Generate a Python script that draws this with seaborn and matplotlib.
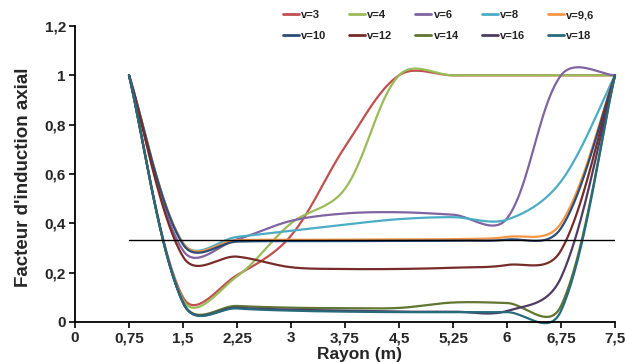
import numpy as np
import pandas as pd
import matplotlib
matplotlib.use("Agg")
import matplotlib.pyplot as plt
import seaborn as sns

# Rayon (m) at which the axial induction factor was computed
rayon = [0.75, 1.5, 2.25, 3.0, 3.75, 4.5, 5.25, 6.0, 6.75, 7.5]

# Axial induction factor for each wind speed v (m/s)
v3 = [1.0, 0.10, 0.19, 0.35, 0.71, 1.0, 1.0, 1.0, 1.0, 1.0]
v4 = [1.0, 0.09, 0.185, 0.40, 0.54, 1.0, 1.0, 1.0, 1.0, 1.0]
v6 = [1.0, 0.29, 0.335, 0.41, 0.44, 0.445, 0.435, 0.42, 1.0, 1.0]
v8 = [1.0, 0.32, 0.345, 0.37, 0.395, 0.417, 0.425, 0.415, 0.57, 1.0]
v9_6 = [1.0, 0.32, 0.332, 0.333, 0.334, 0.335, 0.336, 0.345, 0.40, 1.0]
v10 = [1.0, 0.315, 0.326, 0.328, 0.328, 0.329, 0.33, 0.334, 0.38, 1.0]
v12 = [1.0, 0.265, 0.265, 0.222, 0.215, 0.215, 0.22, 0.231, 0.29, 1.0]
v14 = [1.0, 0.08, 0.065, 0.058, 0.056, 0.057, 0.079, 0.077, 0.065, 1.0]
v16 = [1.0, 0.078, 0.058, 0.05, 0.046, 0.042, 0.042, 0.045, 0.18, 1.0]
v18 = [1.0, 0.078, 0.055, 0.046, 0.042, 0.04, 0.04, 0.04, 0.045, 1.0]

series_labels = ["v=3", "v=4", "v=6", "v=8", "v=9,6",
                 "v=10", "v=12", "v=14", "v=16", "v=18"]
series_values = [v3, v4, v6, v8, v9_6, v10, v12, v14, v16, v18]
series_colors = ["#C0504D", "#9BBB59", "#8064A2", "#4BACC6", "#F79646",
                 "#2C4D75", "#772C2A", "#5F7530", "#4D3B62", "#276A7C"]

# Betz reference level
betz_level = 1 / 3
betz_span = [0.75, 7.5]

x_ticks = [0, 0.75, 1.5, 2.25, 3, 3.75, 4.5, 5.25, 6, 6.75, 7.5]
x_tick_labels = ["0", "0,75", "1,5", "2,25", "3", "3,75", "4,5",
                 "5,25", "6", "6,75", "7,5"]
y_ticks = [0, 0.2, 0.4, 0.6, 0.8, 1.0, 1.2]
y_tick_labels = ["0", "0,2", "0,4", "0,6", "0,8", "1", "1,2"]

sns.set_theme(style="ticks")
plt.rcParams["font.family"] = ["Liberation Sans", "DejaVu Sans"]

fig = plt.figure(figsize=(6.25, 3.62), dpi=100)
ax = fig.add_axes([0.12, 0.1105, 0.864, 0.8177])
ax.set_xlim(0, 7.5)
ax.set_ylim(0, 1.2)


def smooth_curve(xs, ys, n=40):
    """Bezier smoothing of a polyline, computed in display space."""
    pts = ax.transData.transform(np.column_stack([xs, ys]))
    m = len(pts)
    out = [pts[0]]
    t = np.linspace(0, 1, n)[1:][:, None]
    for i in range(m - 1):
        p0 = pts[i - 1] if i > 0 else pts[i]
        p1 = pts[i]
        p2 = pts[i + 1]
        p3 = pts[i + 2] if i + 2 < m else pts[i + 1]
        d01 = np.linalg.norm(p1 - p0)
        d12 = np.linalg.norm(p2 - p1)
        d23 = np.linalg.norm(p3 - p2)
        k1 = 0.5 * (d12 / (d01 + d12)) / 3 + 0.5 / 6
        k2 = 0.5 * (d12 / (d12 + d23)) / 3 + 0.5 / 6
        c1 = p1 + (p2 - p0) * k1
        c2 = p2 - (p3 - p1) * k2
        seg = ((1 - t) ** 3) * p1 + 3 * ((1 - t) ** 2) * t * c1 \
            + 3 * (1 - t) * t ** 2 * c2 + t ** 3 * p2
        out.extend(seg)
    return ax.transData.inverted().transform(np.array(out))


frames = []
for label, values in zip(series_labels, series_values):
    curve = smooth_curve(rayon, values)
    frames.append(pd.DataFrame({"Rayon": curve[:, 0],
                                "Facteur": curve[:, 1],
                                "Série": label}))
df = pd.concat(frames, ignore_index=True)

sns.lineplot(data=df, x="Rayon", y="Facteur", hue="Série",
             palette=dict(zip(series_labels, series_colors)),
             hue_order=series_labels, sort=False, estimator=None,
             linewidth=1.6, ax=ax, clip_on=False)

sns.lineplot(x=betz_span, y=[betz_level, betz_level], color="black",
             linewidth=1.0, ax=ax)

ax.set_xlim(0, 7.5)
ax.set_ylim(0, 1.2)
ax.set_xticks(x_ticks, x_tick_labels)
ax.set_yticks(y_ticks, y_tick_labels)
for lab in ax.get_xticklabels() + ax.get_yticklabels():
    lab.set_fontweight("bold")
    lab.set_fontsize(11)
ax.tick_params(axis="both", direction="out", length=4, width=1.2,
               color="black", pad=2.5)
for side in ["left", "bottom"]:
    ax.spines[side].set_color("black")
    ax.spines[side].set_linewidth(1.3)
sns.despine(ax=ax)

ax.set_xlabel("Rayon (m)", fontsize=12.5, fontweight="bold")
ax.xaxis.set_label_coords(0.526, -0.126)
ax.xaxis.label.set_va("baseline")
ax.set_ylabel("Facteur d'induction axial", fontsize=13.5, fontweight="bold")
ax.yaxis.set_label_coords(-0.0954, 0.49)
ax.yaxis.label.set_va("center")

# Legend laid out in two rows of five
handles, labels = ax.get_legend_handles_labels()
ax.get_legend().remove()
order = [0, 5, 1, 6, 2, 7, 3, 8, 4, 9]
leg = fig.legend([handles[i] for i in order], [labels[i] for i in order],
                 ncol=5, loc="upper left", bbox_to_anchor=(0.452, 0.972),
                 frameon=False, fontsize=8, handlelength=1.45,
                 handletextpad=0.2, columnspacing=2.05, labelspacing=0.95,
                 borderpad=0, borderaxespad=0)
for txt in leg.get_texts():
    txt.set_fontweight("bold")
    txt.set_color("#222222")
for line in leg.get_lines():
    line.set_linewidth(2.0)

fig.savefig("out.png", dpi=100)
